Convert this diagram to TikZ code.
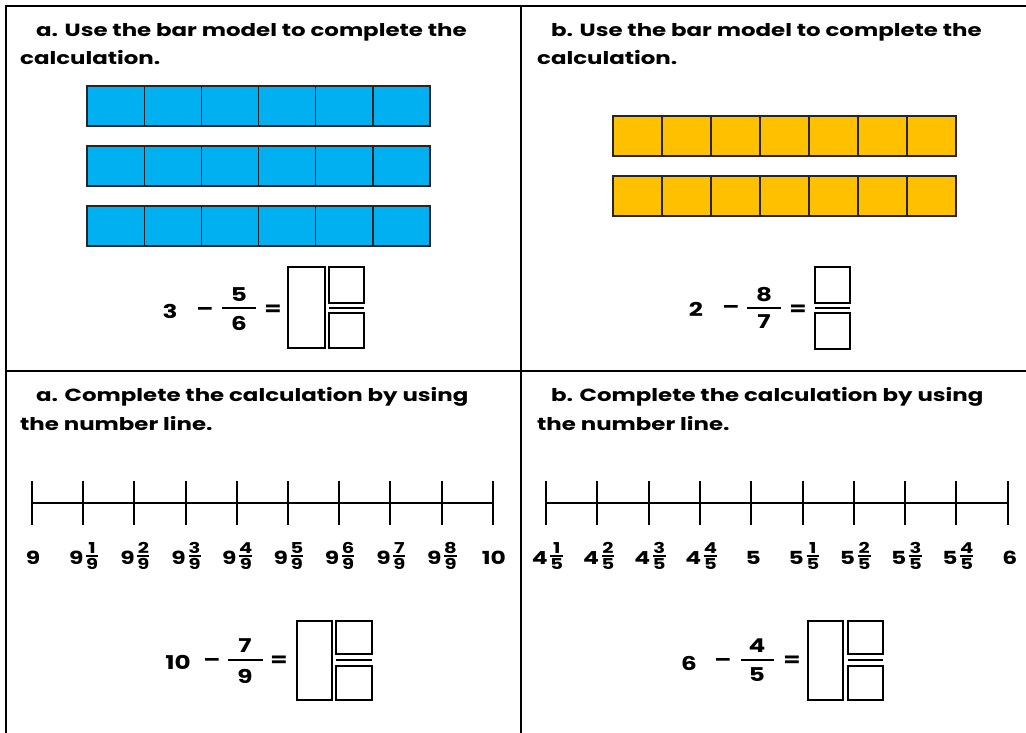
\documentclass[tikz,border=0pt]{standalone}
\usepackage{amsmath}
\usepackage{fontspec}
\setmainfont{Poppins}[FakeStretch=1.3]
\usepackage{tikz}
\usetikzlibrary{positioning}

\definecolor{barblue}{HTML}{00B0F0}
\definecolor{bargold}{HTML}{FFC000}

% whole number with a small stacked fraction
\newcommand{\mixed}[3]{#1\kern1.5pt\raisebox{3.5pt}{$\genfrac{}{}{1.4pt}{1}{\mbox{\fontsize{15}{15}\selectfont #2}}{\mbox{\fontsize{15}{15}\selectfont #3}}$}}

\begin{document}
\begin{tikzpicture}[
  x=1pt, y=-1pt,
  frame/.style={line width=2pt},
  ttl/.style={anchor=base west, inner sep=0pt, font=\fontsize{17.6}{20}\selectfont\bfseries},
  bluecell/.style={draw=black!85, line width=1.3pt, fill=barblue},
  goldcell/.style={draw=black!85, line width=1.3pt, fill=bargold},
  eqn/.style={inner sep=0pt, font=\fontsize{19}{21}\selectfont\bfseries},
  ansbox/.style={draw, line width=1.8pt},
  fracbar/.style={line width=1.8pt},
  nline/.style={line width=2pt},
  numlbl/.style={anchor=base, inner sep=0pt, font=\fontsize{18}{20}\selectfont\bfseries}
]
\useasboundingbox (0,0) rectangle (1026,733);

% frame of the four panels
\draw[frame] (1026,6) -- (6,6) -- (6,733);
\draw[frame] (521,6) -- (521,733);
\draw[frame] (6,371) -- (1026,371);

% titles
\node[ttl] (ta1) at (36,37) {a. Use the bar model to complete the};
\node[ttl] (ta2) at (20,65) {calculation.};
\node[ttl] (tb1) at (551,37) {b. Use the bar model to complete the};
\node[ttl] (tb2) at (537,65) {calculation.};
\node[ttl] (tc1) at (36,401) {a. Complete the calculation by using};
\node[ttl] (tc2) at (20,430) {the number line.};
\node[ttl] (td1) at (551,401) {b. Complete the calculation by using};
\node[ttl] (td2) at (537,430) {the number line.};

% bar models
\foreach \r in {0,1,2}
  \foreach \c in {0,...,5}
    \draw[bluecell] ({87+\c*57.17},{86+\r*60}) rectangle ++(57.17,40);
\foreach \r in {0,1}
  \foreach \c in {0,...,6}
    \draw[goldcell] ({613+\c*49},{116+\r*60}) rectangle ++(49,40);

% 3 - 5/6
\node[eqn] (aw) at (170,311) {3};
\node[eqn] (am) at (205,311) {–};
\node[eqn] (an) at (239,295) {5};
\node[eqn] (ad) at (239,323) {6};
\draw[fracbar] (222,308) -- (256,308);
\node[eqn] (ae) at (273,310) {=};
\draw[ansbox] (288,267) rectangle (325,348);
\draw[ansbox] (329,267) rectangle (364,303);
\draw[fracbar] (329,308) -- (364,308);
\draw[ansbox] (329,313) rectangle (364,348);

% 2 - 8/7
\node[eqn] (bw) at (696,309) {2};
\node[eqn] (bm) at (731,309) {–};
\node[eqn] (bn) at (764,295) {8};
\node[eqn] (bd) at (764,322) {7};
\draw[fracbar] (747,308) -- (781,308);
\node[eqn] (be) at (798,310) {=};
\draw[ansbox] (815,267) rectangle (850,303);
\draw[fracbar] (815,308) -- (850,308);
\draw[ansbox] (815,313) rectangle (850,349);

% number line 9 to 10
\draw[nline] (32,503) -- (493,503);
\foreach \i in {0,...,9}
  \draw[nline] ({32+\i*51.2},481) -- ({32+\i*51.2},525);
\foreach \t [count=\i from 0] in {9,\mixed{9}{1}{9},\mixed{9}{2}{9},\mixed{9}{3}{9},\mixed{9}{4}{9},
    \mixed{9}{5}{9},\mixed{9}{6}{9},\mixed{9}{7}{9},\mixed{9}{8}{9},10}
  \node[numlbl] (la\i) at ({33+\i*51.2},564) {\t};

% number line 4 1/5 to 6
\draw[nline] (546,503) -- (1008,503);
\foreach \i in {0,...,9}
  \draw[nline] ({546+\i*51.3},481) -- ({546+\i*51.3},525);
\foreach \t [count=\i from 0] in {\mixed{4}{1}{5},\mixed{4}{2}{5},\mixed{4}{3}{5},\mixed{4}{4}{5},5,
    \mixed{5}{1}{5},\mixed{5}{2}{5},\mixed{5}{3}{5},\mixed{5}{4}{5},6}
  \node[numlbl] (lb\i) at ({548+\i*51.3},564) {\t};

% 10 - 7/9
\node[eqn] (cw) at (178,662) {10};
\node[eqn] (cm) at (212,662) {–};
\node[eqn] (cn) at (245,646) {7};
\node[eqn] (cd) at (245,676) {9};
\draw[fracbar] (228,660) -- (263,660);
\node[eqn] (ce) at (279,661) {=};
\draw[ansbox] (297,621) rectangle (332,700);
\draw[ansbox] (336,621) rectangle (372,654);
\draw[fracbar] (336,660) -- (372,660);
\draw[ansbox] (336,666) rectangle (372,700);

% 6 - 4/5
\node[eqn] (dw) at (689,663) {6};
\node[eqn] (dm) at (723,662) {–};
\node[eqn] (dn) at (757,646) {4};
\node[eqn] (dd) at (757,675) {5};
\draw[fracbar] (741,660) -- (774,660);
\node[eqn] (de) at (792,661) {=};
\draw[ansbox] (808,621) rectangle (843,700);
\draw[ansbox] (848,621) rectangle (883,654);
\draw[fracbar] (848,660) -- (883,660);
\draw[ansbox] (848,666) rectangle (883,700);
\end{tikzpicture}
\end{document}
